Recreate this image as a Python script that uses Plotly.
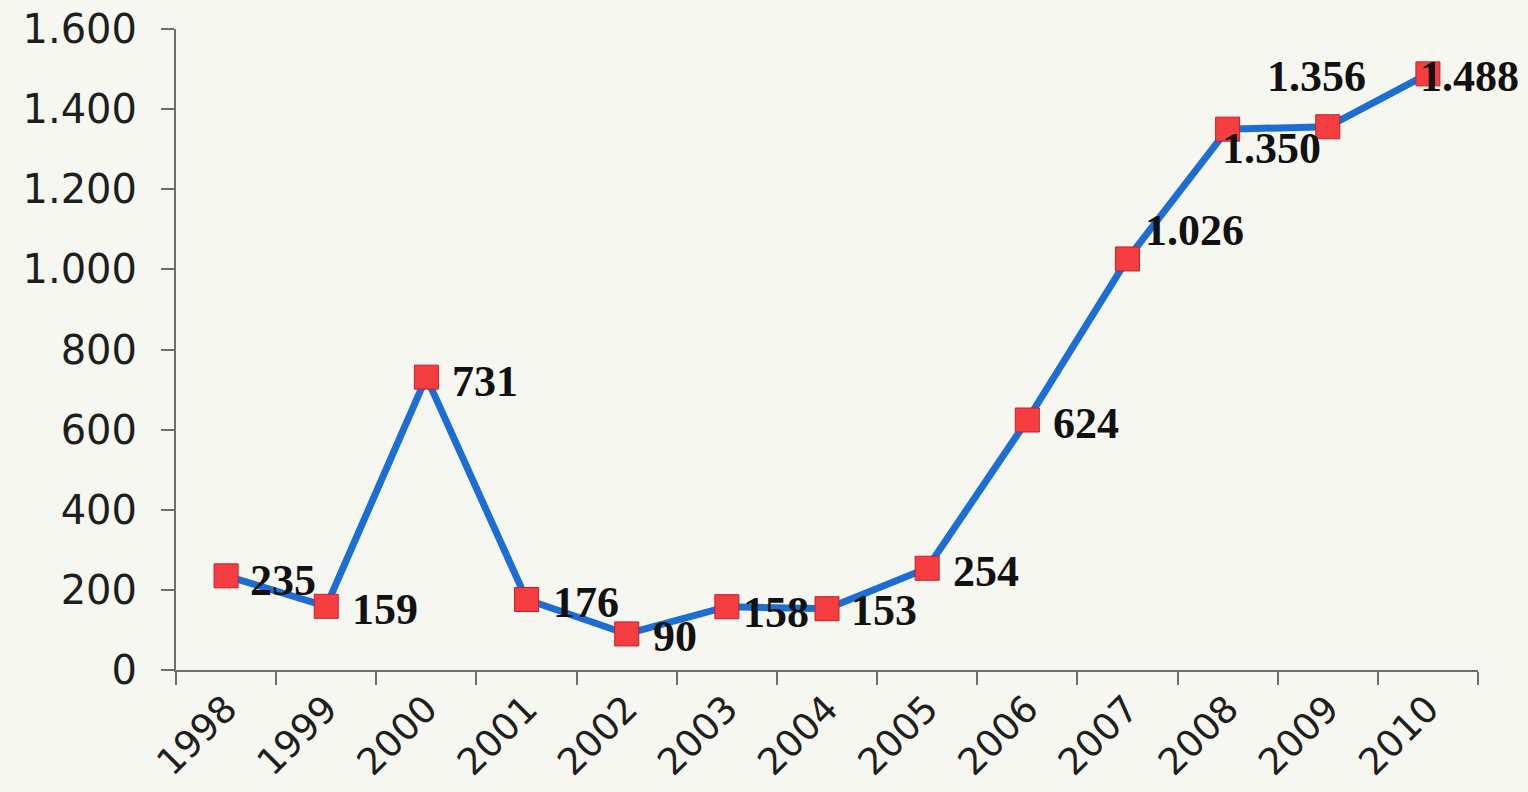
import plotly.graph_objects as go

years = ["1998", "1999", "2000", "2001", "2002", "2003", "2004",
         "2005", "2006", "2007", "2008", "2009", "2010"]
values = [235, 159, 731, 176, 90, 158, 153, 254, 624, 1026, 1350, 1356, 1488]
y_ticks = [0, 200, 400, 600, 800, 1000, 1200, 1400, 1600]

# label placement (anchor, xshift, yshift) per point
label_place = [
    ("left", 22, -5), ("left", 24, -3), ("left", 24, -4), ("left", 24, -3),
    ("left", 24, -3), ("left", 14, -6), ("left", 22, -2), ("left", 24, -3),
    ("left", 24, -3), ("left", 16, 28), ("left", -8, -19), ("left", -63, 50),
    ("left", -10, -3),
]


def fmt(v):
    return f"{v:,}".replace(",", ".")


fig = go.Figure()
fig.add_trace(go.Scatter(
    x=years, y=values, mode="lines+markers",
    line=dict(color="#1c6ed4", width=7),
    marker=dict(symbol="square", size=24, color="#f63e40",
                line=dict(color="#c81e24", width=1)),
    hoverinfo="skip", cliponaxis=False,
))

for i, v in enumerate(values):
    anc, xs, ys = label_place[i]
    fig.add_annotation(
        x=i, y=v, xref="x", yref="y", text=fmt(v), showarrow=False,
        xanchor=anc, yanchor="middle", xshift=xs, yshift=ys,
        font=dict(family="Liberation Serif", size=44, color="#111111",
                  weight="bold"),
    )

fig.update_layout(
    width=1528, height=792,
    margin=dict(l=176, r=50, t=29, b=122, autoexpand=False),
    paper_bgcolor="#f7f7f1", plot_bgcolor="#f7f7f1",
    separators=",.",
    showlegend=False,
    font=dict(family="DejaVu Sans", color="#1e1e1e"),
)
fig.update_xaxes(
    type="category", tickson="boundaries", ticks="outside", ticklen=13,
    tickwidth=2, tickcolor="#6e6e6e", showline=True, linecolor="#6e6e6e",
    linewidth=2, showgrid=False, tickangle=-45, automargin=False,
    tickfont=dict(family="DejaVu Sans", size=37, color="#1e1e1e"),
    range=[-0.5, 12.5],
)
fig.update_yaxes(
    range=[0, 1600], tickvals=y_ticks, tickformat=",d", ticks="outside",
    ticklen=13, tickwidth=2, tickcolor="#6e6e6e", showline=True,
    linecolor="#6e6e6e", linewidth=2, showgrid=False, zeroline=False,
    automargin=False, ticklabelstandoff=16,
    tickfont=dict(family="DejaVu Sans", size=40, color="#1e1e1e"),
)

fig.write_html(
    "out.html",
    config={"displayModeBar": False},
    post_script="document.body.style.margin='0';"
                "document.body.style.background='#f7f7f1';",
)
